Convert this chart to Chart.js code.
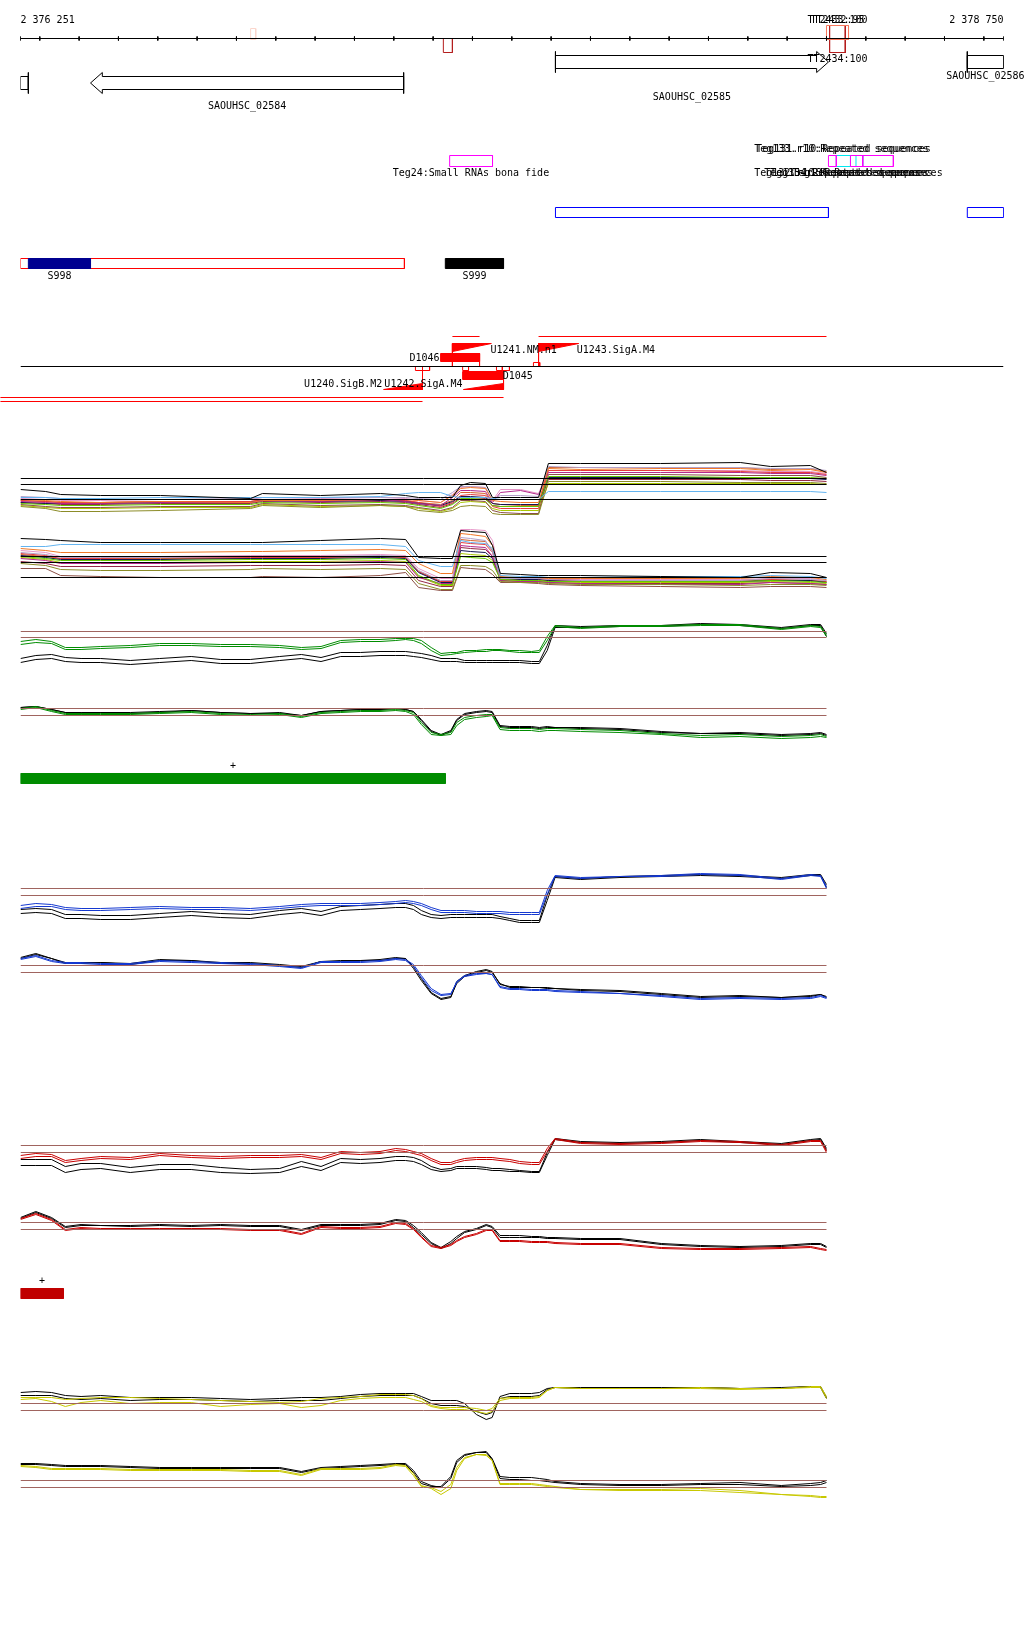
<!DOCTYPE html>
<html>
<head>
<meta charset="utf-8">
<title>SAOUHSC_02584 - SAOUHSC_02586</title>
<script src="https://cdn.jsdelivr.net/npm/chart.js@4.4.1/dist/chart.umd.min.js"></script>
<style>
  html, body { margin: 0; padding: 0; background: #fff; }
  #page { position: relative; width: 1024px; height: 1640px; overflow: hidden; }
  #page canvas { position: absolute; left: 0; }
</style>
</head>
<body>
<div id="page"></div>
<script>
// ========================= DATA =========================
const VIEW_START = 2376251;
const VIEW_END = 2378750;
const rulerLabels = ['2 376 251', '2 378 750'];

// terminators
const ttNames  = ['TT2429:90', 'TT2431:100', 'TT2432:95', 'TT2433:100', 'TT2434:100'];
const ttStarts = [2376836, 2377326, 2378300, 2378308, 2378308];
const ttEnds   = [2376849, 2377349, 2378356, 2378348, 2378348];

// genes
const geneNames  = ['SAOUHSC_02583', 'SAOUHSC_02584', 'SAOUHSC_02585', 'SAOUHSC_02586'];
const geneStarts = [2376251, 2376429, 2377611, 2378658];
const geneEnds   = [2376271, 2377225, 2378305, 2378750];
const geneStrand = ['-', '-', '+', '+'];

// Teg features (small RNAs / repeats)
const tegBoxStarts = [2377342, 2378305, 2378361, 2378392, 2378325, 2378375];
const tegBoxEnds   = [2377451, 2378325, 2378392, 2378470, 2378361, 2378392];
const tegBoxKind   = ['srna', 'srna', 'srna', 'srna', 'repeat', 'repeat'];
const tegLabels    = ['Teg24:Small RNAs bona fide', 'Teg131.r10:Repeated sequences', 'Teg133.r10:Repeated sequences',
                      'Teg132.r10:Repeated sequences', 'Teg134:Repeated sequences', 'Teg135.r2:Repeated sequences', 'Teg136:Repeated sequences'];
const tegLabelPos  = [2377396, 2378343, 2378338, 2378338, 2378348, 2378356, 2378404];
const tegLabelSide = ['below', 'above', 'above', 'below', 'below', 'below', 'below'];

// operons
const operonStarts = [2377611, 2378658];
const operonEnds   = [2378305, 2378750];

// segments
const segNames  = ['S998', 'S999'];
const segStarts = [2376271, 2377331];
const segEnds   = [2376429, 2377479];
const segSpan   = [2376251, 2377227];

// transcription signals
const promoterNames  = ['U1241.NM.n1', 'U1243.SigA.M4', 'U1242.SigA.M4', 'U1240.SigB.M2'];
const promoterStarts = [2377349, 2377568, 2377174, 2377377];
const promoterEnds   = [2377448, 2377670, 2377273, 2377479];
const promoterStrand = ['+', '+', '-', '-'];
const promoterLabelPos = [2377446, 2377665, 2377176, 2377171];
const breakNames  = ['D1046', 'D1045'];
const breakStarts = [2377319, 2377375];
const breakEnds   = [2377418, 2377477];
const breakStrand = ['+', '-'];
const tssStarts = [2377555, 2377255, 2377273, 2377375, 2377461, 2377476];
const tssEnds   = [2377571, 2377273, 2377291, 2377390, 2377476, 2377494];
const tssStrand = ['+', '-', '-', '-', '-', '-'];
const readStarts = [2377349, 2377568, 2376200, 2376200];
const readEnds   = [2377418, 2378300, 2377479, 2377273];

// conditions bars
const regionStarts = [2376251, 2376251];
const regionEnds   = [2377331, 2376360];
const regionStrand = ['+', '+'];

// expression profiles (log2 signal)
const profilePos = [2376251, 2376290, 2376330, 2376365, 2376405, 2376455, 2376530, 2376605, 2376685, 2376760,
  2376835, 2376910, 2376965, 2377015, 2377065, 2377115, 2377165, 2377205, 2377230, 2377250,
  2377270, 2377295, 2377320, 2377345, 2377360, 2377380, 2377410, 2377435, 2377450, 2377470,
  2377495, 2377520, 2377550, 2377570, 2377590, 2377610, 2377675, 2377775, 2377880, 2377980,
  2378080, 2378185, 2378260, 2378285, 2378300];
const bundlePos = [2376251, 2376315, 2376353, 2376454, 2376607, 2376836, 2376866, 2377014, 2377166, 2377230,
  2377263, 2377319, 2377349, 2377370, 2377395, 2377433, 2377451, 2377471, 2377522, 2377568,
  2377593, 2377675, 2377878, 2378081, 2378158, 2378259, 2378300];

// all conditions, plus strand
const thrA = [8.2, 7.6, 6.1];
const bundleA = [
  [7.1,6.9,6.6,6.5,6.5,6.2,6.7,6.5,6.7,6.5,6.3,6.3,6.3,7.5,7.8,7.7,6.3,6.3,6.3,6.3,9.7,9.7,9.7,9.8,9.4,9.5,8.8],
  [6.3,6.3,6.2,6.2,6.3,6.3,6.3,6.3,6.4,6.7,6.8,6.8,6.4,6.3,6.3,6.3,6.2,6.1,6.1,6.1,6.9,6.9,6.9,6.9,6.9,6.9,6.8],
  [6.1,6.0,5.9,5.8,5.9,5.8,6.0,6.0,6.1,6.1,6.0,5.8,6.5,7.2,7.3,7.2,6.0,5.9,5.8,5.8,9.2,9.1,9.2,9.2,9.0,9.1,8.8],
  [6.4,6.3,6.2,6.1,6.1,6.2,6.3,6.3,6.3,6.3,6.2,6.1,6.8,7.4,7.4,7.3,6.1,6.5,6.5,6.4,9.4,9.3,9.3,9.3,9.2,9.2,9.0],
  [5.7,5.6,5.5,5.5,5.6,5.6,5.8,5.7,5.8,5.7,5.5,5.2,5.6,6.2,6.2,6.1,5.5,5.4,5.4,5.4,8.4,8.4,8.4,8.3,8.3,8.3,8.2],
  [5.4,5.2,4.9,4.9,5.0,5.2,5.5,5.3,5.5,5.4,5.0,4.8,5.0,5.4,5.5,5.4,4.7,4.6,4.6,4.6,7.9,7.9,7.9,7.8,7.8,7.8,7.7],
  [5.9,5.8,5.7,5.7,5.8,5.8,6.0,5.9,6.1,5.9,5.7,5.5,6.3,7.0,7.0,6.9,5.8,6.8,7.0,6.6,8.8,8.8,8.8,8.8,8.7,8.7,8.5],
  [5.8,5.7,5.7,5.7,5.8,5.8,6.0,5.9,6.0,5.9,5.7,5.5,5.9,6.4,6.4,6.3,5.7,5.6,5.6,5.6,8.3,8.3,8.3,8.3,8.2,8.2,8.1],
  [6.0,5.9,5.8,5.8,5.9,5.9,6.1,6.0,6.0,6.0,5.8,5.4,5.8,6.5,6.6,6.5,5.4,5.2,5.2,5.2,9.0,9.0,9.0,8.9,8.8,8.8,8.6],
  [5.6,5.4,5.3,5.3,5.4,5.4,5.7,5.5,5.6,5.5,5.3,5.0,5.3,6.0,6.0,5.9,5.0,4.8,4.7,4.7,8.6,8.6,8.6,8.5,8.5,8.5,8.3],
  [6.2,6.1,6.0,6.0,6.1,6.1,6.3,6.2,6.3,6.2,6.0,5.8,6.6,7.3,7.4,7.3,6.0,7.1,7.1,6.7,9.0,9.0,9.0,9.0,8.9,8.9,8.7],
  [5.5,5.3,5.2,5.2,5.3,5.3,5.6,5.4,5.5,5.4,5.2,4.9,5.2,5.8,5.9,5.8,5.2,5.0,5.0,5.0,7.7,7.7,7.7,7.7,7.7,7.7,7.6],
  [5.8,5.7,5.6,5.6,5.7,5.7,5.9,5.8,5.9,5.8,5.6,5.3,5.7,6.3,6.3,6.2,5.5,5.4,5.4,5.4,8.1,8.1,8.1,8.1,8.0,8.0,7.9],
  [6.0,5.9,5.8,5.8,5.9,5.9,6.1,6.0,6.1,6.0,5.8,5.6,6.0,6.8,6.8,6.7,5.7,5.6,5.5,5.5,9.3,9.3,9.3,9.3,9.1,9.2,8.9]
];

// all conditions, minus strand
const thrB = [7.4, 6.8, 5.3];
const bundleB = [
  [9.2,9.1,9.0,8.8,8.8,8.8,8.8,9.0,9.2,9.1,7.3,7.2,7.2,10.0,9.9,9.8,8.5,5.7,5.6,5.5,5.5,5.5,5.4,5.3,5.8,5.7,5.3],
  [8.4,8.4,8.6,8.6,8.6,8.6,8.6,8.6,8.6,8.4,7.0,6.4,6.4,9.0,8.8,8.7,8.2,5.5,5.4,5.4,5.3,5.3,5.4,5.4,5.5,5.4,5.2],
  [8.2,8.0,7.8,7.8,7.8,7.9,7.9,8.0,8.1,8.0,6.7,5.7,5.7,9.7,9.6,9.4,8.5,5.4,5.3,5.3,5.2,5.2,5.2,5.2,5.4,5.3,5.1],
  [7.8,7.6,7.3,7.3,7.3,7.4,7.4,7.4,7.5,7.4,6.0,5.0,5.0,9.3,9.2,9.0,7.8,5.2,5.2,5.2,5.1,5.0,5.0,5.0,5.2,5.1,5.0],
  [7.4,7.2,7.0,7.0,7.0,7.1,7.1,7.1,7.2,7.1,5.5,4.6,4.6,7.4,7.3,7.2,6.8,5.1,5.0,5.0,4.9,4.9,4.9,4.9,5.0,4.9,4.8],
  [6.7,6.5,6.1,6.0,6.0,6.1,6.2,6.1,6.2,6.1,4.7,4.1,4.1,6.5,6.5,6.4,6.0,4.9,4.8,4.8,4.7,4.6,4.6,4.5,4.6,4.6,4.5],
  [7.2,7.0,6.7,6.7,6.7,6.8,6.8,6.8,6.9,6.8,5.3,4.7,4.7,8.5,8.4,8.3,7.4,5.0,4.9,4.9,4.8,4.7,4.6,4.6,4.8,4.7,4.6],
  [7.5,7.3,7.1,7.1,7.1,7.2,7.2,7.2,7.3,7.2,5.8,4.8,4.8,8.0,7.9,7.8,7.2,5.2,5.1,5.1,5.0,4.9,4.9,4.9,5.0,5.0,4.8],
  [7.7,7.5,7.2,7.2,7.3,7.3,7.3,7.3,7.4,7.3,5.9,4.9,4.9,8.8,8.7,8.6,7.8,5.3,5.2,5.2,5.1,5.0,5.0,5.0,5.1,5.0,4.9],
  [6.2,6.2,5.5,5.4,5.3,5.3,5.4,5.3,5.5,5.8,4.3,4.0,4.0,6.3,6.2,6.1,5.6,4.8,4.8,4.7,4.6,4.5,4.4,4.3,4.4,4.4,4.3],
  [8.0,7.8,7.4,7.4,7.4,7.5,7.5,7.5,7.6,7.5,6.2,5.2,5.2,10.1,10.1,10.0,9.0,5.3,5.2,5.2,5.1,5.1,5.1,5.1,5.2,5.2,5.0],
  [7.3,7.1,6.8,6.8,6.8,6.9,6.9,6.9,7.0,6.9,5.4,4.5,4.5,7.7,7.6,7.5,7.0,5.1,5.0,5.0,4.9,4.8,4.8,4.8,4.9,4.8,4.7],
  [6.9,6.7,6.4,6.4,6.4,6.5,6.5,6.5,6.6,6.5,5.0,4.4,4.4,8.3,8.2,8.1,7.4,5.0,4.9,4.9,4.8,4.7,4.7,4.7,4.8,4.7,4.6],
  [7.6,7.4,7.2,7.2,7.2,7.2,7.3,7.3,7.4,7.3,5.9,4.9,4.9,9.1,9.0,8.9,8.0,5.2,5.1,5.1,5.0,5.0,5.0,4.9,5.1,5.0,4.9]
];

// condition 1 (green)
const thrC = [10.9, 10.3];
const cGreen1 = [9.9,10.1,9.9,9.3,9.3,9.4,9.5,9.7,9.7,9.6,9.6,9.5,9.3,9.4,10.0,10.1,10.1,10.2,10.2,10.2,10.0,9.3,8.7,8.8,8.8,9.0,9.0,9.1,9.1,9.1,9.0,9.0,8.9,9.0,10.4,11.5,11.3,11.5,11.5,11.6,11.6,11.2,11.5,11.4,10.6];
const cGreen2 = [9.6,9.8,9.7,9.1,9.1,9.2,9.3,9.5,9.5,9.4,9.4,9.3,9.1,9.2,9.8,9.9,9.9,10.0,10.1,10.0,9.7,9.0,8.5,8.6,8.7,8.8,8.9,8.9,9.0,9.0,8.9,8.8,8.8,8.8,10.0,11.4,11.2,11.4,11.4,11.5,11.5,11.1,11.4,11.3,10.4];
const cRef1 = [8.2,8.5,8.6,8.3,8.2,8.2,8.0,8.2,8.4,8.1,8.1,8.4,8.6,8.3,8.8,8.8,8.9,8.9,8.9,8.8,8.7,8.5,8.2,8.2,8.2,8.0,8.0,8.0,8.0,8.0,8.0,8.0,7.9,7.9,9.5,11.5,11.4,11.5,11.5,11.7,11.6,11.3,11.6,11.6,10.7];
const cRef2 = [7.8,8.1,8.2,7.9,7.8,7.8,7.6,7.8,8.0,7.7,7.7,8.0,8.2,7.9,8.4,8.4,8.5,8.5,8.5,8.4,8.3,8.1,7.9,7.9,7.9,7.8,7.8,7.8,7.8,7.8,7.8,7.8,7.7,7.7,9.0,11.3,11.3,11.4,11.4,11.6,11.5,11.2,11.5,11.5,10.4];
const thrD = [7.2, 6.5];
const dGreen1 = [7.2,7.4,7.0,6.7,6.7,6.7,6.7,6.8,6.9,6.7,6.6,6.7,6.4,6.8,6.9,7.0,7.0,7.1,7.0,6.8,5.8,4.8,4.6,4.8,5.8,6.3,6.5,6.6,6.6,5.3,5.2,5.2,5.2,5.1,5.2,5.2,5.1,5.0,4.7,4.5,4.6,4.4,4.5,4.6,4.4];
const dGreen2 = [7.1,7.3,6.9,6.6,6.6,6.6,6.6,6.7,6.8,6.6,6.5,6.6,6.3,6.7,6.8,6.9,6.9,7.0,6.9,6.6,5.6,4.6,4.5,4.6,5.5,6.1,6.3,6.4,6.5,5.1,5.0,5.0,5.0,4.9,5.0,5.0,4.9,4.8,4.6,4.3,4.4,4.2,4.3,4.4,4.3];
const dRef1 = [7.3,7.4,7.1,6.8,6.8,6.8,6.8,6.9,7.0,6.8,6.7,6.8,6.5,6.9,7.0,7.1,7.1,7.2,7.1,6.9,6.0,4.9,4.5,4.9,6.0,6.6,6.8,6.9,6.8,5.4,5.3,5.3,5.3,5.2,5.3,5.3,5.2,5.1,4.8,4.7,4.7,4.5,4.6,4.7,4.5];
const dRef2 = [7.3,7.4,7.1,6.8,6.7,6.8,6.7,6.8,7.0,6.8,6.7,6.7,6.5,6.9,7.0,7.1,7.1,7.2,7.1,6.9,6.1,5.0,4.6,5.0,6.1,6.7,6.9,7.0,6.9,5.5,5.4,5.4,5.4,5.3,5.4,5.3,5.3,5.2,4.9,4.7,4.8,4.6,4.7,4.8,4.6];

// condition 2 (blue)
const thrE = [7.2, 6.5];
const eBlue1 = [5.5,5.7,5.6,5.3,5.2,5.2,5.3,5.4,5.3,5.3,5.2,5.4,5.6,5.7,5.7,5.7,5.8,5.9,6.0,5.9,5.7,5.3,5.0,5.0,5.0,5.0,4.9,4.9,4.9,4.9,4.8,4.8,4.8,4.8,7.0,8.5,8.3,8.4,8.5,8.7,8.6,8.2,8.6,8.5,7.4];
const eBlue2 = [5.2,5.4,5.4,5.1,5.0,5.0,5.1,5.2,5.1,5.1,5.0,5.2,5.4,5.5,5.5,5.5,5.6,5.7,5.8,5.7,5.5,5.1,4.8,4.8,4.8,4.8,4.7,4.7,4.7,4.7,4.6,4.6,4.6,4.6,6.6,8.4,8.2,8.4,8.4,8.6,8.5,8.1,8.5,8.4,7.2];
const eRef1 = [5.1,5.2,5.1,4.6,4.6,4.5,4.5,4.7,4.9,4.7,4.6,5.0,5.2,4.9,5.4,5.5,5.6,5.7,5.7,5.5,5.0,4.6,4.5,4.6,4.6,4.6,4.6,4.6,4.6,4.4,4.2,4.0,4.0,4.0,6.5,8.4,8.2,8.4,8.5,8.6,8.5,8.3,8.6,8.6,7.6];
const eRef2 = [4.7,4.8,4.7,4.2,4.2,4.1,4.1,4.3,4.5,4.3,4.2,4.6,4.8,4.5,5.0,5.1,5.2,5.3,5.3,5.1,4.6,4.3,4.2,4.3,4.3,4.3,4.3,4.3,4.3,4.2,4.0,3.8,3.8,3.8,6.0,8.3,8.1,8.3,8.4,8.5,8.4,8.2,8.5,8.5,7.3];
const thrF = [6.5, 5.8];
const fBlue1 = [7.2,7.5,7.0,6.8,6.8,6.7,6.7,7.0,6.9,6.8,6.7,6.5,6.3,6.9,6.9,6.9,7.0,7.2,7.1,6.6,5.5,4.2,3.6,3.7,4.8,5.4,5.6,5.7,5.6,4.4,4.2,4.2,4.1,4.1,4.1,4.0,3.9,3.7,3.5,3.2,3.3,3.2,3.3,3.5,3.3];
const fBlue2 = [7.1,7.4,6.9,6.7,6.7,6.6,6.6,6.9,6.8,6.7,6.6,6.4,6.2,6.8,6.8,6.8,6.9,7.1,7.0,6.4,5.3,4.0,3.5,3.6,4.9,5.5,5.7,5.7,5.6,4.3,4.1,4.1,4.0,4.0,4.0,3.9,3.8,3.7,3.4,3.1,3.2,3.1,3.2,3.4,3.2];
const fRef1 = [7.3,7.7,7.2,6.8,6.8,6.8,6.7,7.1,7.0,6.8,6.8,6.6,6.4,6.9,7.0,7.0,7.1,7.3,7.2,6.4,5.2,3.8,3.2,3.4,4.7,5.4,5.8,6.0,5.8,4.7,4.3,4.3,4.3,4.3,4.2,4.2,4.0,3.9,3.6,3.3,3.4,3.3,3.4,3.6,3.3];
const fRef2 = [7.2,7.6,7.2,6.7,6.7,6.8,6.6,7.0,7.0,6.7,6.7,6.5,6.3,6.9,6.9,7.0,7.0,7.2,7.2,6.2,5.0,3.7,3.1,3.3,4.9,5.5,5.9,6.1,5.9,4.6,4.4,4.4,4.3,4.3,4.3,4.2,4.1,4.0,3.7,3.4,3.5,3.3,3.5,3.6,3.4];

// condition 3 (red)
const thrG = [5.5, 4.8];
const gRed1 = [4.5,4.7,4.6,4.0,4.2,4.4,4.3,4.7,4.5,4.4,4.5,4.5,4.6,4.3,4.9,4.8,4.9,5.2,5.1,4.9,4.7,4.2,3.8,3.8,4.0,4.2,4.3,4.3,4.3,4.2,4.1,3.9,3.8,3.8,5.2,6.2,5.8,5.7,5.8,6.0,5.9,5.6,6.0,6.0,5.0];
const gRed2 = [4.2,4.4,4.4,3.8,4.0,4.2,4.1,4.5,4.3,4.2,4.3,4.3,4.4,4.1,4.7,4.6,4.7,5.0,4.9,4.7,4.5,4.0,3.6,3.6,3.8,4.0,4.1,4.1,4.1,4.0,3.9,3.7,3.6,3.6,4.9,6.1,5.7,5.6,5.7,5.9,5.8,5.5,5.9,5.9,4.8];
const gRef1 = [4.1,4.1,4.1,3.4,3.7,3.7,3.3,3.6,3.6,3.3,3.1,3.2,3.9,3.4,4.2,4.1,4.2,4.4,4.4,4.3,4.0,3.4,3.1,3.2,3.4,3.4,3.4,3.3,3.2,3.2,3.1,3.0,2.9,2.9,4.8,6.2,5.9,5.8,5.9,6.1,5.9,5.7,6.1,6.2,5.2];
const gRef2 = [3.5,3.5,3.5,2.8,3.1,3.2,2.8,3.1,3.1,2.8,2.7,2.8,3.4,3.0,3.8,3.7,3.8,4.0,4.0,3.9,3.6,3.1,2.9,3.0,3.2,3.2,3.2,3.1,3.0,3.0,2.9,2.9,2.8,2.8,4.5,6.1,5.8,5.7,5.8,6.0,5.8,5.6,6.0,6.1,5.0];
const thrH = [3.8, 3.1];
const hRed1 = [4.2,4.7,4.1,3.1,3.3,3.2,3.2,3.2,3.2,3.2,3.1,3.1,2.7,3.4,3.3,3.3,3.4,3.8,3.7,3.2,2.4,1.5,1.3,1.6,2.0,2.4,2.7,3.1,3.1,2.0,2.0,2.0,1.9,1.9,1.9,1.8,1.7,1.7,1.3,1.2,1.2,1.3,1.4,1.2,1.1];
const hRed2 = [4.1,4.6,4.0,3.0,3.2,3.1,3.1,3.1,3.1,3.1,3.0,3.0,2.6,3.3,3.2,3.2,3.3,3.7,3.6,3.1,2.3,1.4,1.2,1.5,1.9,2.3,2.6,3.0,3.0,1.9,1.9,1.9,1.8,1.8,1.8,1.7,1.6,1.6,1.2,1.1,1.1,1.2,1.3,1.1,1.0];
const hRef1 = [4.2,4.8,4.2,3.3,3.5,3.5,3.4,3.5,3.4,3.5,3.4,3.4,3.0,3.5,3.5,3.5,3.6,4.0,3.9,3.3,2.6,1.7,1.2,1.7,2.2,2.8,3.1,3.5,3.3,2.3,2.3,2.3,2.3,2.3,2.2,2.2,2.1,2.1,1.6,1.4,1.3,1.4,1.6,1.6,1.3];
const hRef2 = [4.3,4.9,4.3,3.4,3.6,3.5,3.5,3.6,3.5,3.6,3.5,3.5,3.1,3.6,3.6,3.6,3.7,4.1,4.0,3.5,2.8,1.8,1.3,1.9,2.4,2.9,3.2,3.6,3.4,2.5,2.5,2.5,2.4,2.4,2.3,2.3,2.2,2.2,1.7,1.5,1.4,1.5,1.7,1.7,1.4];

// condition 4 (yellow)
const thrI = [3.7, 3.0];
const iYel1 = [4.3,4.3,4.3,4.1,4.2,4.3,4.3,4.2,4.1,4.0,3.9,3.8,3.9,4.2,4.3,4.4,4.6,4.6,4.6,4.5,4.2,3.5,3.3,3.3,3.3,3.3,3.2,3.0,3.2,4.2,4.3,4.3,4.3,4.4,5.0,5.3,5.2,5.2,5.2,5.3,5.2,5.2,5.4,5.4,4.4];
const iYel2 = [4.1,4.2,3.9,3.4,3.8,4.0,3.7,3.8,3.8,3.4,3.6,3.7,3.3,3.5,4.0,4.2,4.3,4.3,4.3,4.1,3.9,3.4,3.2,3.1,3.1,3.1,2.9,2.7,2.9,4.0,4.2,4.2,4.2,4.3,5.0,5.3,5.2,5.2,5.2,5.2,5.1,5.2,5.3,5.3,4.2];
const iRef1 = [4.8,4.9,4.8,4.5,4.4,4.5,4.3,4.3,4.3,4.2,4.1,4.2,4.3,4.3,4.4,4.6,4.7,4.7,4.7,4.7,4.4,4.0,4.0,4.0,4.0,3.7,2.6,2.1,2.3,4.4,4.7,4.7,4.7,4.8,5.2,5.3,5.3,5.3,5.3,5.3,5.2,5.3,5.4,5.4,4.3];
const iRef2 = [4.5,4.5,4.5,4.2,4.1,4.2,4.0,4.1,4.1,4.0,3.9,4.0,4.0,4.0,4.2,4.4,4.5,4.5,4.5,4.5,4.2,3.7,3.5,3.5,3.5,3.4,2.9,2.6,2.8,4.2,4.4,4.4,4.4,4.5,5.1,5.3,5.2,5.2,5.2,5.3,5.2,5.2,5.4,5.3,4.2];
const thrJ = [3.0, 2.3];
const jYel1 = [4.5,4.4,4.2,4.2,4.2,4.2,4.1,4.1,4.1,4.1,4.0,4.0,3.6,4.2,4.2,4.2,4.3,4.6,4.5,3.7,2.5,2.2,1.6,2.2,4.0,5.2,5.6,5.5,5.0,2.7,2.7,2.7,2.7,2.6,2.5,2.4,2.1,2.1,2.1,2.2,2.0,1.6,1.4,1.3,1.3];
const jYel2 = [4.4,4.3,4.1,4.1,4.1,4.1,4.0,4.0,4.0,4.0,3.9,3.9,3.5,4.1,4.1,4.1,4.2,4.5,4.4,3.5,2.4,2.3,1.9,2.6,4.3,5.3,5.6,5.6,5.0,2.6,2.6,2.6,2.6,2.5,2.4,2.3,2.1,2.0,2.0,2.0,1.8,1.6,1.5,1.4,1.4];
const jRef1 = [4.7,4.7,4.6,4.5,4.5,4.5,4.4,4.3,4.3,4.3,4.3,4.3,3.9,4.3,4.4,4.5,4.6,4.7,4.7,4.0,2.9,2.5,2.3,3.2,4.8,5.5,5.8,5.9,5.2,3.4,3.3,3.3,3.3,3.2,3.1,2.9,2.7,2.6,2.6,2.7,2.8,2.5,2.7,2.8,3.0];
const jRef2 = [4.6,4.6,4.5,4.4,4.4,4.4,4.3,4.2,4.2,4.2,4.2,4.2,3.8,4.2,4.3,4.4,4.5,4.6,4.6,3.8,2.7,2.4,2.4,3.4,5.0,5.6,5.8,5.8,5.1,3.2,3.1,3.1,3.0,3.0,2.9,2.8,2.6,2.5,2.5,2.6,2.6,2.4,2.5,2.6,2.8];

// ========================= LAYOUT / STYLE =========================
const ROWS = {
  rulerText: 20, ruler: 38, tick: [36, 40],
  tt: [[28, 39], [38, 52], [25, 39], [25, 52], [25, 52]],
  ttLabel: [null, null, 20, 20, 59],
  gene: [82.5, 82.5, 61.5, 61.5], geneLabel: [null, 106, 97, 76], geneBody: 6.5, geneHead: 10.5,
  tegBox: [155, 166], tegAbove: 149, tegBelow: 173,
  operon: [207, 217],
  seg: [258, 268], segLabel: 276,
  base: 366, readAbove: [336, 336], readBelow: [397, 401],
  promoterPlus: [343, 351], promoterMinus: [383, 389],
  breakPlus: [353, 361], breakMinus: [371, 379],
  tssPlus: [362, 366], tssMinus: [366, 370],
  promoterLabel: [350, 350, 384, 384], breakLabel: [358, 376],
  region: [[773, 783], [1288, 1298]], regionLabel: [766, 1281]
};
const GENE_HEAD_BP = 30;
const TT_COLORS = ['#fbd6cc', '#b41e1e', '#f8785c', '#b41e1e', '#b41e1e'];
const REGION_COLORS = ['#008c00', '#c00000'];
const BROWN = '#a0645f';
const BUNDLE_COLORS = ['#000000', '#64b4f0', '#f07828', '#b4a0c8', '#64c800', '#8c8c28', '#b4288c',
                       '#141450', '#e63c3c', '#8c5046', '#e696c8', '#aac800', '#962846', '#d2642d'];
const FONT = '10px "DejaVu Sans Mono", monospace';

// ========================= HELPERS =========================
const page = document.getElementById('page');

function makeCanvas(top, height) {
  const c = document.createElement('canvas');
  c.width = 1024;
  c.height = height;
  c.style.top = top + 'px';
  c.style.width = '1024px';
  c.style.height = height + 'px';
  page.appendChild(c);
  return c;
}

function baseOptions(yMin, yMax, reverse) {
  return {
    responsive: false,
    animation: false,
    devicePixelRatio: 1,
    events: [],
    layout: { padding: { left: 20.5, right: 20.5, top: 0, bottom: 0 } },
    plugins: { legend: { display: false }, tooltip: { enabled: false } },
    elements: { point: { radius: 0, hitRadius: 0 }, line: { borderWidth: 1, tension: 0 } },
    scales: {
      x: { type: 'linear', display: false, min: VIEW_START, max: VIEW_END },
      y: { type: 'linear', display: false, min: yMin, max: yMax, reverse: reverse }
    }
  };
}

function pt(x, y) { return { x: x, y: y }; }

function lineDs(points, color, extra) {
  return Object.assign({
    data: points, borderColor: color, backgroundColor: color,
    borderWidth: 1, pointRadius: 0, fill: false, tension: 0
  }, extra || {});
}

function boxDs(s, e, rows, color, filled) {
  const t = rows[0], b = rows[1];
  return lineDs([pt(s, t), pt(e, t), pt(e, b), pt(s, b), pt(s, t)], color, filled ? { fill: 'shape' } : {});
}

function textPlugin(items) {
  return {
    id: 'featureText',
    afterDatasetsDraw(chart) {
      const ctx = chart.ctx;
      const x = chart.scales.x, y = chart.scales.y;
      ctx.save();
      ctx.font = FONT;
      ctx.fillStyle = '#000';
      ctx.textBaseline = 'middle';
      items.forEach(t => {
        ctx.textAlign = t.align || 'center';
        ctx.fillText(t.text, x.getPixelForValue(t.pos) + (t.dx || 0), y.getPixelForValue(t.row));
      });
      ctx.restore();
    }
  };
}

// ========================= ANNOTATION LAYER =========================
function buildAnnotations() {
  const ds = [];
  const texts = [];

  // ruler
  ds.push(lineDs([pt(VIEW_START, ROWS.ruler), pt(VIEW_END, ROWS.ruler)], '#000'));
  const ticks = [VIEW_START];
  for (let v = Math.ceil(VIEW_START / 100) * 100; v < VIEW_END; v += 100) ticks.push(v);
  ticks.push(VIEW_END);
  const tickPts = [];
  ticks.forEach(v => tickPts.push(pt(v, ROWS.tick[0]), pt(v, ROWS.tick[1]), pt(v, null)));
  ds.push(lineDs(tickPts, '#000'));
  texts.push({ text: rulerLabels[0], pos: VIEW_START, row: ROWS.rulerText, align: 'left' });
  texts.push({ text: rulerLabels[1], pos: VIEW_END, row: ROWS.rulerText, align: 'right' });

  // terminators
  ttNames.forEach((name, i) => {
    ds.push(boxDs(ttStarts[i], ttEnds[i], ROWS.tt[i], TT_COLORS[i], false));
    if (ROWS.ttLabel[i] !== null) {
      texts.push({ text: name, pos: (ttStarts[i] + ttEnds[i]) / 2, row: ROWS.ttLabel[i] });
    }
  });

  // genes
  geneNames.forEach((name, i) => {
    const s = geneStarts[i], e = geneEnds[i], c = ROWS.gene[i];
    const b = ROWS.geneBody, h = ROWS.geneHead;
    let shape;
    if (s <= VIEW_START || e >= VIEW_END) {
      shape = [pt(s, c - b), pt(e, c - b), pt(e, c + b), pt(s, c + b), pt(s, c - b)];
    } else if (geneStrand[i] === '+') {
      const k = e - GENE_HEAD_BP;
      shape = [pt(s, c - b), pt(k, c - b), pt(k, c - h), pt(e, c), pt(k, c + h), pt(k, c + b), pt(s, c + b), pt(s, c - b)];
    } else {
      const k = s + GENE_HEAD_BP;
      shape = [pt(e, c - b), pt(k, c - b), pt(k, c - h), pt(s, c), pt(k, c + h), pt(k, c + b), pt(e, c + b), pt(e, c - b)];
    }
    const tss = geneStrand[i] === '+' ? s : e;
    ds.push(lineDs(shape, '#000'));
    ds.push(lineDs([pt(tss, c - h), pt(tss, c + h)], '#000'));
    if (ROWS.geneLabel[i] !== null) {
      texts.push({ text: name, pos: (s + e) / 2, row: ROWS.geneLabel[i] });
    }
  });

  // Teg
  tegBoxStarts.forEach((s, i) => {
    ds.push(boxDs(s, tegBoxEnds[i], ROWS.tegBox, tegBoxKind[i] === 'repeat' ? '#00e8f0' : '#ff00ff', false));
  });
  tegLabels.forEach((t, i) => {
    texts.push({ text: t, pos: tegLabelPos[i], row: tegLabelSide[i] === 'above' ? ROWS.tegAbove : ROWS.tegBelow });
  });

  // operons
  operonStarts.forEach((s, i) => ds.push(boxDs(s, operonEnds[i], ROWS.operon, '#0000ff', false)));

  // segments
  ds.push(boxDs(segStarts[0], segEnds[0], ROWS.seg, '#000090', true));
  ds.push(boxDs(segSpan[0], segSpan[1], ROWS.seg, '#ff0000', false));
  ds.push(boxDs(segStarts[1], segEnds[1], ROWS.seg, '#000000', true));
  segNames.forEach((n, i) => texts.push({ text: n, pos: (segStarts[i] + segEnds[i]) / 2, row: ROWS.segLabel }));

  // transcription signals
  ds.push(lineDs([pt(VIEW_START, ROWS.base), pt(VIEW_END, ROWS.base)], '#000'));
  readStarts.forEach((s, i) => {
    const row = i < 2 ? ROWS.readAbove[i] : ROWS.readBelow[i - 2];
    ds.push(lineDs([pt(s, row), pt(readEnds[i], row)], '#ff0000', { clip: false }));
  });
  promoterNames.forEach((n, i) => {
    const s = promoterStarts[i], e = promoterEnds[i];
    let tri, stem;
    if (promoterStrand[i] === '+') {
      const r = ROWS.promoterPlus;
      tri = [pt(s, r[0]), pt(e, r[0]), pt(s, r[1]), pt(s, r[0])];
      stem = [pt(s, r[0]), pt(s, ROWS.base)];
    } else {
      const r = ROWS.promoterMinus;
      tri = [pt(s, r[1]), pt(e, r[1]), pt(e, r[0]), pt(s, r[1])];
      stem = [pt(e, ROWS.tssMinus[1]), pt(e, r[1])];
    }
    ds.push(lineDs(tri, '#ff0000', { fill: 'shape' }));
    ds.push(lineDs(stem, '#ff0000'));
    const right = promoterLabelPos[i] < s;
    texts.push({ text: n, pos: promoterLabelPos[i], row: ROWS.promoterLabel[i], align: right ? 'right' : 'left' });
  });
  breakNames.forEach((n, i) => {
    const plus = breakStrand[i] === '+';
    ds.push(boxDs(breakStarts[i], breakEnds[i], plus ? ROWS.breakPlus : ROWS.breakMinus, '#ff0000', true));
    if (plus) {
      ds.push(lineDs([pt(breakEnds[i], ROWS.breakPlus[0]), pt(breakEnds[i], ROWS.base)], '#ff0000'));
      texts.push({ text: n, pos: breakStarts[i], row: ROWS.breakLabel[i], align: 'right', dx: -1 });
    } else {
      texts.push({ text: n, pos: breakEnds[i], row: ROWS.breakLabel[i], align: 'left' });
    }
  });
  tssStarts.forEach((s, i) => {
    ds.push(boxDs(s, tssEnds[i], tssStrand[i] === '+' ? ROWS.tssPlus : ROWS.tssMinus, '#ff0000', false));
  });

  // condition bars
  regionStarts.forEach((s, i) => {
    ds.push(boxDs(s, regionEnds[i], ROWS.region[i], REGION_COLORS[i], true));
    texts.push({ text: regionStrand[i], pos: (s + regionEnds[i]) / 2, row: ROWS.regionLabel[i] });
  });

  const canvas = makeCanvas(0, 1640);
  new Chart(canvas, {
    type: 'line',
    data: { datasets: ds },
    options: baseOptions(-0.5, 1639.5, true),
    plugins: [textPlugin(texts)]
  });
}

// ========================= PROFILE TRACKS =========================
function drawProfile(track) {
  const canvas = makeCanvas(track.top, track.height);
  const yMax = (track.anchor - track.top + 0.5) / 10;
  const yMin = yMax - track.height / 10;
  const last = track.pos[track.pos.length - 1];
  const datasets = [];
  track.thresholds.forEach(v => {
    datasets.push(lineDs([pt(VIEW_START, v), pt(last, v)], track.thresholdColor));
  });
  track.series.forEach(s => {
    datasets.push(lineDs(track.pos.map((x, i) => pt(x, s.values[i])), s.color));
  });
  new Chart(canvas, { type: 'line', data: { datasets }, options: baseOptions(yMin, yMax, false) });
}

const GREEN = '#008c00', BLUE = '#1438d0', RED = '#c80000', YELLOW = '#c8c800', BLACK = '#000000';
const tracks = [
  { top: 450, height: 75, anchor: 560, pos: bundlePos, thresholds: thrA, thresholdColor: BLACK,
    series: bundleA.map((v, i) => ({ values: v, color: BUNDLE_COLORS[i] })) },
  { top: 525, height: 75, anchor: 630, pos: bundlePos, thresholds: thrB, thresholdColor: BLACK,
    series: bundleB.map((v, i) => ({ values: v, color: BUNDLE_COLORS[i] })) },
  { top: 610, height: 60, anchor: 740, pos: profilePos, thresholds: thrC, thresholdColor: BROWN,
    series: [{ values: cGreen1, color: GREEN }, { values: cGreen2, color: GREEN }, { values: cRef1, color: BLACK }, { values: cRef2, color: BLACK }] },
  { top: 695, height: 50, anchor: 780, pos: profilePos, thresholds: thrD, thresholdColor: BROWN,
    series: [{ values: dGreen1, color: GREEN }, { values: dGreen2, color: GREEN }, { values: dRef1, color: BLACK }, { values: dRef2, color: BLACK }] },
  { top: 865, height: 60, anchor: 960, pos: profilePos, thresholds: thrE, thresholdColor: BROWN,
    series: [{ values: eBlue1, color: BLUE }, { values: eBlue2, color: BLUE }, { values: eRef1, color: BLACK }, { values: eRef2, color: BLACK }] },
  { top: 945, height: 60, anchor: 1030, pos: profilePos, thresholds: thrF, thresholdColor: BROWN,
    series: [{ values: fBlue1, color: BLUE }, { values: fBlue2, color: BLUE }, { values: fRef1, color: BLACK }, { values: fRef2, color: BLACK }] },
  { top: 1125, height: 55, anchor: 1200, pos: profilePos, thresholds: thrG, thresholdColor: BROWN,
    series: [{ values: gRed1, color: RED }, { values: gRed2, color: RED }, { values: gRef1, color: BLACK }, { values: gRef2, color: BLACK }] },
  { top: 1200, height: 55, anchor: 1260, pos: profilePos, thresholds: thrH, thresholdColor: BROWN,
    series: [{ values: hRed1, color: RED }, { values: hRed2, color: RED }, { values: hRef1, color: BLACK }, { values: hRef2, color: BLACK }] },
  { top: 1375, height: 55, anchor: 1440, pos: profilePos, thresholds: thrI, thresholdColor: BROWN,
    series: [{ values: iYel1, color: YELLOW }, { values: iYel2, color: YELLOW }, { values: iRef1, color: BLACK }, { values: iRef2, color: BLACK }] },
  { top: 1440, height: 65, anchor: 1510, pos: profilePos, thresholds: thrJ, thresholdColor: BROWN,
    series: [{ values: jYel1, color: YELLOW }, { values: jYel2, color: YELLOW }, { values: jRef1, color: BLACK }, { values: jRef2, color: BLACK }] }
];

// ========================= INIT =========================
buildAnnotations();
tracks.forEach(drawProfile);
</script>
</body>
</html>
